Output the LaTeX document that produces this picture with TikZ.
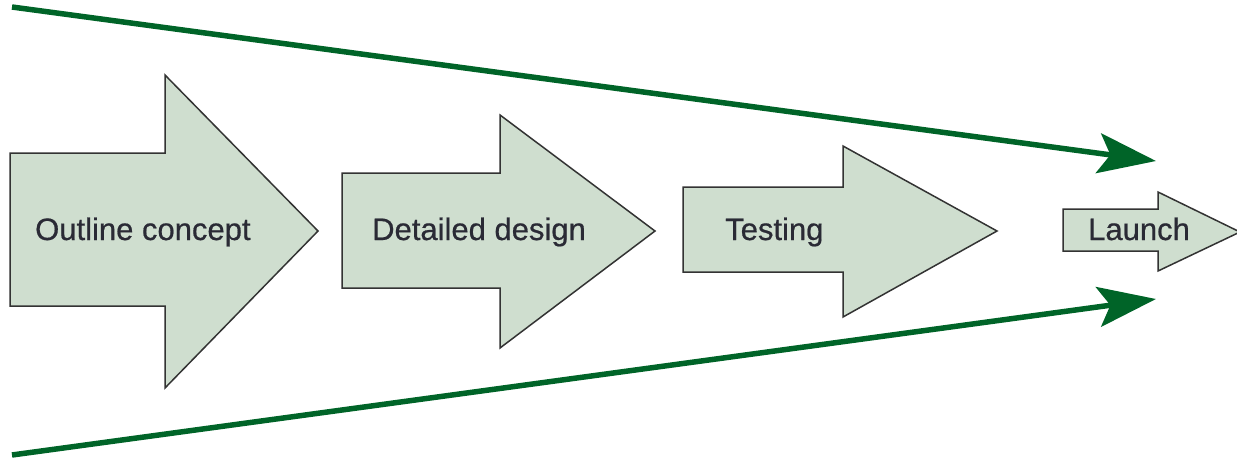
\documentclass[tikz,border=0pt]{standalone}
\usepackage{fontspec}
\setmainfont{Liberation Sans}
\newfontfamily\stagefont[FakeBold=0.6]{Liberation Sans}
\usetikzlibrary{arrows.meta}
\definecolor{stagefill}{HTML}{CFDECF}
\definecolor{stageline}{HTML}{333333}
\definecolor{funnel}{HTML}{006428}
\definecolor{labeltext}{HTML}{2A2A35}
\tikzset{
  stagearrow/.style={fill=stagefill, draw=stageline, line width=1.5pt, line join=miter},
  stagelabel/.style={anchor=base west, inner sep=0pt, text=labeltext,
    font=\stagefont\fontsize{31}{34}\selectfont},
  funnelline/.style={draw=funnel, line width=5.5pt,
    -{Stealth[length=58pt, width=40pt, inset=12pt]}},
}
% #1 tail x, #2 head base x, #3 tip x, #4 shaft top, #5 shaft bottom,
% #6 head top, #7 head bottom, #8 tip y
\newcommand{\stageshape}[8]{%
  \draw[stagearrow] (#1,#4) -- (#2,#4) -- (#2,#6) -- (#3,#8) -- (#2,#7)
    -- (#2,#5) -- (#1,#5) -- cycle;}
\begin{document}
\begin{tikzpicture}[x=1pt, y=-1pt]
\useasboundingbox (0,0) rectangle (1237,461);
\begin{scope}
\clip (0,0) rectangle (1237,461);
\stageshape{10}{165}{318}{153}{306}{75}{388}{231}
\stageshape{342}{500}{655}{173}{288}{115}{348}{231}
\stageshape{683}{843}{997}{187}{272}{146}{317}{231}
\stageshape{1063}{1158}{1240}{209}{251}{192}{271}{232}
\end{scope}
\node[stagelabel] (outline) at (35,240) {Outline concept};
\node[stagelabel] (design) at (372,240) {Detailed design};
\node[stagelabel] (testing) at (725,240) {Testing};
\node[stagelabel] (launch) at (1088,240) {Launch};
\coordinate (topstart) at (12,7);
\coordinate (topend) at (1156,161);
\coordinate (botstart) at (12,455);
\coordinate (botend) at (1156,299);
\draw[funnelline] (topstart) -- (topend);
\draw[funnelline] (botstart) -- (botend);
\end{tikzpicture}
\end{document}
